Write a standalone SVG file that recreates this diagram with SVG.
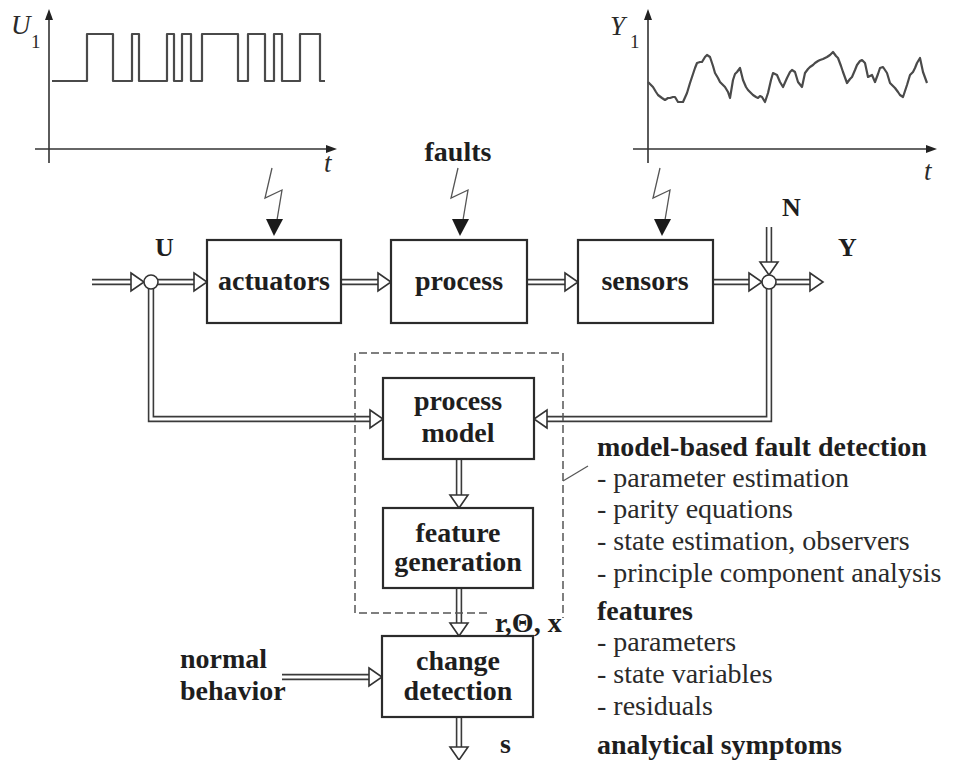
<svg xmlns="http://www.w3.org/2000/svg" xmlns:xlink="http://www.w3.org/1999/xlink" width="953" height="760" viewBox="0 0 953 760">
  <style>
    .bg { fill: #ffffff; }
    .box { fill: #ffffff; stroke: #2b2b2b; stroke-width: 2.2; }
    .lbl { font-family: "Liberation Serif", "Times New Roman", serif; font-weight: bold; font-size: 28px; fill: #1e1e1e; text-anchor: middle; }
    .lft { text-anchor: start; }
    .sym { font-family: "Liberation Serif", "Times New Roman", serif; font-weight: bold; font-size: 26px; fill: #1e1e1e; }
    .note { font-family: "Liberation Serif", "Times New Roman", serif; font-size: 28px; fill: #2a2a2a; }
    .noteb { font-family: "Liberation Serif", "Times New Roman", serif; font-weight: bold; font-size: 28px; fill: #1e1e1e; }
    .axlbl { font-family: "Liberation Serif", "Times New Roman", serif; font-style: italic; font-size: 27px; fill: #2a2a2a; }
    .axsub { font-family: "Liberation Serif", "Times New Roman", serif; font-size: 19px; fill: #2a2a2a; }
    .axis { fill: none; stroke: #333333; stroke-width: 1.6; }
    .sig { fill: none; stroke: #4a4a4a; stroke-width: 2.2; stroke-linejoin: round; }
    .outer { fill: none; stroke: #3a3a3a; stroke-width: 6.4; stroke-linejoin: miter; }
    .inner { fill: none; stroke: #ffffff; stroke-width: 3.2; stroke-linejoin: miter; marker-end: url(#open); }
    .dash { fill: none; stroke: #555555; stroke-width: 1.5; stroke-dasharray: 8 4; }
    .thin { fill: none; stroke: #555555; stroke-width: 1.2; }
    .junc { fill: #ffffff; stroke: #333333; stroke-width: 1.6; }
  </style>
  <defs>
    <!-- open triangular arrowhead for the double-line signal paths -->
    <marker id="open" markerUnits="userSpaceOnUse" markerWidth="18" markerHeight="22" refX="1" refY="10" orient="auto" overflow="visible">
      <path d="M1,1 L14,10 L1,19 Z" fill="#ffffff" stroke="#333333" stroke-width="1.6" stroke-linejoin="miter"/>
    </marker>
    <!-- lightning-bolt fault arrow -->
    <g id="bolt">
      <path d="M0,0 L-7,30 L10,22 L5,52" fill="none" stroke="#555555" stroke-width="1.3"/>
      <path d="M-6,51 L11,51 L2,68 Z" fill="#1a1a1a"/>
    </g>
    <!-- double-line connector routes -->
    <path id="c-in" d="M92,282 H131"/>
    <path id="c-u" d="M158,282 H194"/>
    <path id="c-ap" d="M341,282 H378"/>
    <path id="c-ps" d="M527,282 H565"/>
    <path id="c-sy" d="M713,282 H749"/>
    <path id="c-n" d="M769,227 V262"/>
    <path id="c-y" d="M776,282 H810"/>
    <path id="c-fbl" d="M151,289 V419 H370"/>
    <path id="c-fbr" d="M769,289 V419 H547"/>
    <path id="c-mf" d="M459,459 V495"/>
    <path id="c-fc" d="M459,588 V623"/>
    <path id="c-nb" d="M282,677 H369"/>
    <path id="c-s" d="M459,717 V747"/>
  </defs>

  <rect class="bg" x="0" y="0" width="953" height="760"/>

  <!-- input signal plot U1(t) -->
  <g id="plot-u1">
    <path class="axis" d="M49,163 V18"/>
    <path d="M45,20 L49,9 L53,20 Z" fill="#222"/>
    <path class="axis" d="M35,149 H328"/>
    <path d="M326,145 L337,149 L326,153 Z" fill="#222"/>
    <path class="sig" d="M52,81 H87 V34 H113 V81 H132 V34 H139 V81 H167 V34 H174 V81 H182 V34 H191 V81 H202 V34 H238 V81 H248 V34 H265 V81 H274 V34 H282 V81 H300 V34 H320 V81 H325"/>
    <text class="axlbl" x="11" y="34">U</text>
    <text class="axsub" x="31" y="48">1</text>
    <text class="axlbl" x="324" y="172">t</text>
  </g>

  <!-- output signal plot Y1(t) -->
  <g id="plot-y1">
    <path class="axis" d="M648,163 V18"/>
    <path d="M644,20 L648,9 L652,20 Z" fill="#222"/>
    <path class="axis" d="M633,149 H928"/>
    <path d="M926,145 L937,149 L926,153 Z" fill="#222"/>
    <path class="sig" d="M648,82 L653,87 L656,92 L658,95 L662,98 L665,100 L668,98 L670,98 L673,97 L675,97 L678,102 L683,102 L687,93 L690,83 L692,77 L695,68 L697,63 L700,62 L702,62 L705,57 L707,55 L710,57 L713,66 L715,73 L718,78 L720,82 L723,85 L725,87 L728,92 L730,98 L733,80 L735,74 L737,72 L740,68 L743,80 L746,87 L748,90 L751,93 L753,95 L756,97 L758,98 L760,96 L762,97 L765,102 L768,93 L771,80 L773,73 L777,75 L780,82 L783,87 L787,78 L790,72 L792,70 L795,72 L798,82 L802,87 L805,73 L808,69 L810,67 L813,65 L815,63 L818,61 L820,60 L823,59 L827,57 L830,55 L833,52 L836,56 L838,58 L841,66 L843,72 L847,83 L850,79 L852,77 L855,70 L857,65 L860,61 L862,60 L865,63 L868,77 L872,75 L875,82 L878,74 L880,68 L883,67 L887,73 L890,83 L893,86 L895,88 L898,92 L900,95 L903,97 L907,85 L910,75 L913,72 L915,68 L917,63 L920,58 L923,72 L927,83"/>
    <text class="axlbl" x="610" y="35">Y</text>
    <text class="axsub" x="630" y="48">1</text>
    <text class="axlbl" x="924" y="180">t</text>
  </g>

  <!-- fault inputs -->
  <g id="faults">
    <text class="lbl" x="458" y="161">faults</text>
    <use xlink:href="#bolt" x="272" y="168"/>
    <use xlink:href="#bolt" x="458" y="168"/>
    <use xlink:href="#bolt" x="660" y="168"/>
  </g>

  <!-- double-line connectors -->
  <g id="connectors">
    <use xlink:href="#c-in" class="outer"/><use xlink:href="#c-in" class="inner"/>
    <use xlink:href="#c-u" class="outer"/><use xlink:href="#c-u" class="inner"/>
    <use xlink:href="#c-ap" class="outer"/><use xlink:href="#c-ap" class="inner"/>
    <use xlink:href="#c-ps" class="outer"/><use xlink:href="#c-ps" class="inner"/>
    <use xlink:href="#c-sy" class="outer"/><use xlink:href="#c-sy" class="inner"/>
    <use xlink:href="#c-n" class="outer"/><use xlink:href="#c-n" class="inner"/>
    <use xlink:href="#c-y" class="outer"/><use xlink:href="#c-y" class="inner"/>
    <use xlink:href="#c-fbl" class="outer"/><use xlink:href="#c-fbl" class="inner"/>
    <use xlink:href="#c-fbr" class="outer"/><use xlink:href="#c-fbr" class="inner"/>
    <use xlink:href="#c-mf" class="outer"/><use xlink:href="#c-mf" class="inner"/>
    <use xlink:href="#c-fc" class="outer"/><use xlink:href="#c-fc" class="inner"/>
    <use xlink:href="#c-nb" class="outer"/><use xlink:href="#c-nb" class="inner"/>
    <use xlink:href="#c-s" class="outer"/><use xlink:href="#c-s" class="inner"/>
    <!-- dashed frame around the model-based part and its pointer -->
    <path class="dash" d="M487,613 H355 V353 H563 V618"/>
    <path class="thin" d="M563,481 L588,466"/>
  </g>

  <!-- summing junctions -->
  <g id="junction-u">
    <circle class="junc" cx="151" cy="282" r="7"/>
    <text class="sym" x="155" y="256">U</text>
  </g>
  <g id="junction-y">
    <circle class="junc" cx="769" cy="282" r="7"/>
    <text class="sym" x="782" y="216">N</text>
    <text class="sym" x="838" y="256">Y</text>
  </g>

  <!-- blocks -->
  <g id="actuators">
    <rect class="box" x="207" y="240" width="134" height="83"/>
    <text class="lbl" x="274" y="290">actuators</text>
  </g>
  <g id="process">
    <rect class="box" x="391" y="240" width="136" height="83"/>
    <text class="lbl" x="459" y="290">process</text>
  </g>
  <g id="sensors">
    <rect class="box" x="578" y="240" width="135" height="83"/>
    <text class="lbl" x="645" y="290">sensors</text>
  </g>
  <g id="process-model">
    <rect class="box" x="383" y="378" width="151" height="81"/>
    <text class="lbl" x="458" y="410">process</text>
    <text class="lbl" x="458" y="442">model</text>
  </g>
  <g id="feature-generation">
    <rect class="box" x="383" y="508" width="150" height="80"/>
    <text class="lbl" x="458" y="542">feature</text>
    <text class="lbl" x="458" y="571">generation</text>
  </g>
  <g id="change-detection">
    <rect class="box" x="382" y="636" width="151" height="81"/>
    <text class="lbl" x="458" y="670">change</text>
    <text class="lbl" x="458" y="700">detection</text>
  </g>

  <!-- signal labels -->
  <g id="labels">
    <text class="lbl lft" x="180" y="668">normal</text>
    <text class="lbl lft" x="180" y="700">behavior</text>
    <text class="lbl lft" x="495" y="632">r,Θ, x</text>
    <text class="lbl lft" x="500" y="753">s</text>
  </g>

  <!-- method notes -->
  <g id="notes">
    <text class="noteb" x="597" y="456">model-based fault detection</text>
    <text class="note" x="597" y="487">- parameter estimation</text>
    <text class="note" x="597" y="518">- parity equations</text>
    <text class="note" x="597" y="550">- state estimation, observers</text>
    <text class="note" x="597" y="582">- principle component analysis</text>
    <text class="noteb" x="597" y="620">features</text>
    <text class="note" x="597" y="651">- parameters</text>
    <text class="note" x="597" y="683">- state variables</text>
    <text class="note" x="597" y="715">- residuals</text>
    <text class="noteb" x="597" y="754">analytical symptoms</text>
  </g>
</svg>
